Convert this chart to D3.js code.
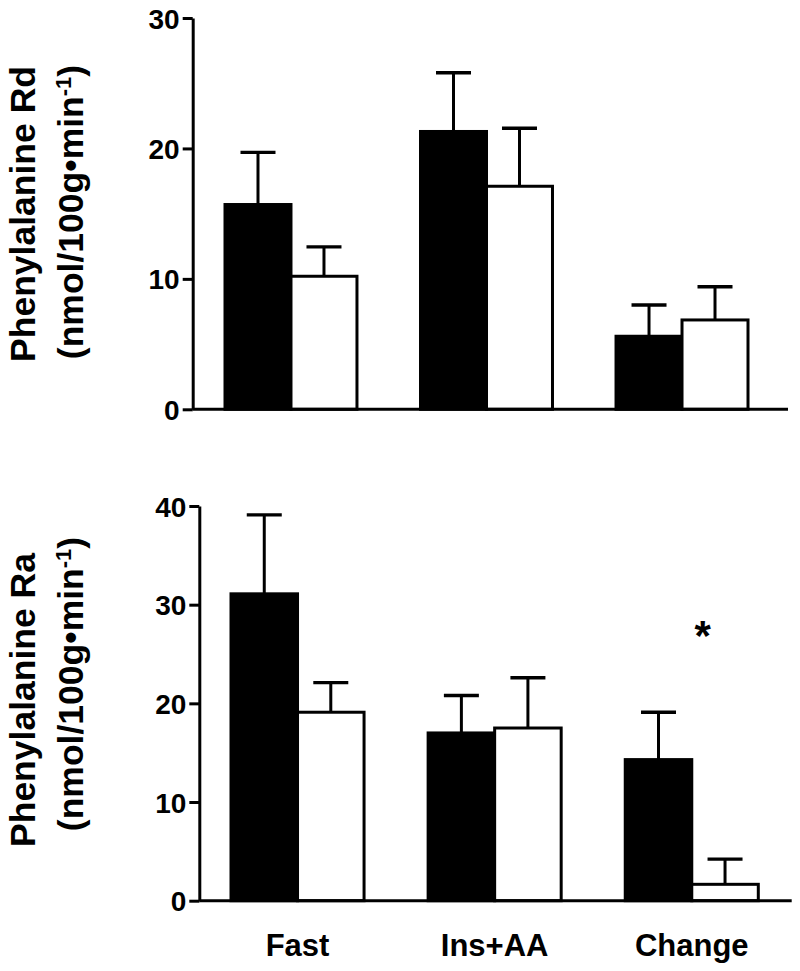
<!DOCTYPE html>
<html>
<head>
<meta charset="utf-8">
<script src="https://cdn.jsdelivr.net/npm/d3@7"></script>
<style>
  html, body { margin: 0; padding: 0; background: #fff; }
  svg { display: block; }
  text { font-family: "Liberation Sans", Arial, Helvetica, sans-serif; font-weight: bold; fill: #000; }
</style>
</head>
<body>
<svg width="800" height="971"></svg>
<script>
// groups on the x axis
const groups = ["Fast", "Ins+AA", "Change"];
const series = ["filled", "open"];

// phenylalanine Rd (top panel)
const rdFilled = [15.7, 21.3, 5.6];
const rdFilledSem = [4.0, 4.5, 2.4];
const rdOpen = [10.2, 17.1, 6.85];
const rdOpenSem = [2.25, 4.45, 2.55];
const rdTicks = [0, 10, 20, 30];

// phenylalanine Ra (bottom panel)
const raFilled = [31.1, 17.0, 14.3];
const raFilledSem = [8.0, 3.8, 4.8];
const raOpen = [19.1, 17.5, 1.66];
const raOpenSem = [3.0, 5.1, 2.55];
const raTicks = [0, 10, 20, 30, 40];

// significance marks: [group, series, y value]
const marks = [["Change", "open", 27.8]];

const svg = d3.select("svg");

function drawPanel(p) {
  const g = svg.append("g").classed("panel", true);

  const y = d3.scaleLinear().domain([0, p.max]).range([p.bottom, p.top]);
  const x = d3.scaleBand().domain(groups).range([p.bandL, p.bandR]).paddingInner(0.325);
  const xs = d3.scaleBand().domain(series).range([0, x.bandwidth()]);

  const rows = [];
  groups.forEach((grp, i) => {
    rows.push({ grp, s: "filled", v: p.filled[i], e: p.filledSem[i] });
    rows.push({ grp, s: "open", v: p.open[i], e: p.openSem[i] });
  });

  const capW = 35;
  const cx = (d) => x(d.grp) + xs(d.s) + xs.bandwidth() / 2;

  // error bars (upper only)
  const eb = g.selectAll(".err").data(rows).join("g").classed("err", true)
    .attr("stroke", "#000").attr("stroke-width", 3);
  eb.append("line")
    .attr("x1", cx).attr("x2", cx)
    .attr("y1", (d) => y(d.v))
    .attr("y2", (d) => y(d.v + d.e));
  eb.append("line")
    .attr("stroke-width", 3.4)
    .attr("x1", (d) => cx(d) - capW / 2)
    .attr("x2", (d) => cx(d) + capW / 2)
    .attr("y1", (d) => y(d.v + d.e))
    .attr("y2", (d) => y(d.v + d.e));

  // bars
  g.selectAll(".bar").data(rows).join("rect").classed("bar", true)
    .attr("x", (d) => x(d.grp) + xs(d.s))
    .attr("width", xs.bandwidth())
    .attr("y", (d) => y(d.v))
    .attr("height", (d) => y(0) - y(d.v))
    .attr("fill", (d) => (d.s === "filled" ? "#000" : "#fff"))
    .attr("stroke", "#000")
    .attr("stroke-width", 3);

  // y axis
  const ya = g.append("g")
    .attr("transform", `translate(${p.axisX},0)`)
    .call(d3.axisLeft(y).tickValues(p.ticks).tickFormat(d3.format("d"))
      .tickSize(10).tickSizeOuter(0).tickPadding(3));
  ya.selectAll("path, line").attr("stroke", "#000").attr("stroke-width", 3);
  ya.selectAll("text")
    .attr("font-size", 28)
    .attr("dy", "0.36em");

  // x axis line
  g.append("line")
    .attr("x1", p.axisX).attr("x2", p.axisEnd)
    .attr("y1", y(0)).attr("y2", y(0))
    .attr("stroke", "#000").attr("stroke-width", 3);

  // y label, two lines
  g.append("text")
    .attr("transform", `translate(35,${p.label1Y}) rotate(-90)`)
    .attr("text-anchor", "middle")
    .attr("font-size", 35.5)
    .text(p.label);
  const l2 = g.append("text")
    .attr("transform", `translate(83,${p.label2Y}) rotate(-90)`)
    .attr("text-anchor", "middle")
    .attr("font-size", 35.5);
  l2.append("tspan").text("(nmol/100g\u2022min");
  l2.append("tspan").attr("font-size", 22).attr("baseline-shift", "super").text("-1");
  l2.append("tspan").text(")");

  return { x, xs, y };
}

drawPanel({
  label: "Phenylalanine Rd", filled: rdFilled, filledSem: rdFilledSem,
  open: rdOpen, openSem: rdOpenSem, ticks: rdTicks, max: 30,
  top: 18, bottom: 409.3, axisX: 192.7, axisEnd: 788,
  bandL: 225, bandR: 748, label1Y: 214, label2Y: 212
});

const ra = drawPanel({
  label: "Phenylalanine Ra", filled: raFilled, filledSem: raFilledSem,
  open: raOpen, openSem: raOpenSem, ticks: raTicks, max: 40,
  top: 506, bottom: 900.7, axisX: 199.3, axisEnd: 791.7,
  bandL: 231, bandR: 758.3, label1Y: 700, label2Y: 684
});

// x category labels under the bottom panel
svg.selectAll(".xlab").data(groups).join("text").classed("xlab", true)
  .attr("x", (d) => ra.x(d) + ra.x.bandwidth() / 2)
  .attr("y", 956)
  .attr("text-anchor", "middle")
  .attr("font-size", 31)
  .text((d) => d);

// asterisk
svg.selectAll(".sig").data(marks).join("text").classed("sig", true)
  .attr("x", (d) => ra.x(d[0]) + ra.xs(d[1]) + 11)
  .attr("y", (d) => ra.y(d[2]) + 24)
  .attr("text-anchor", "middle")
  .attr("font-size", 42)
  .text("*");
</script>
</body>
</html>
